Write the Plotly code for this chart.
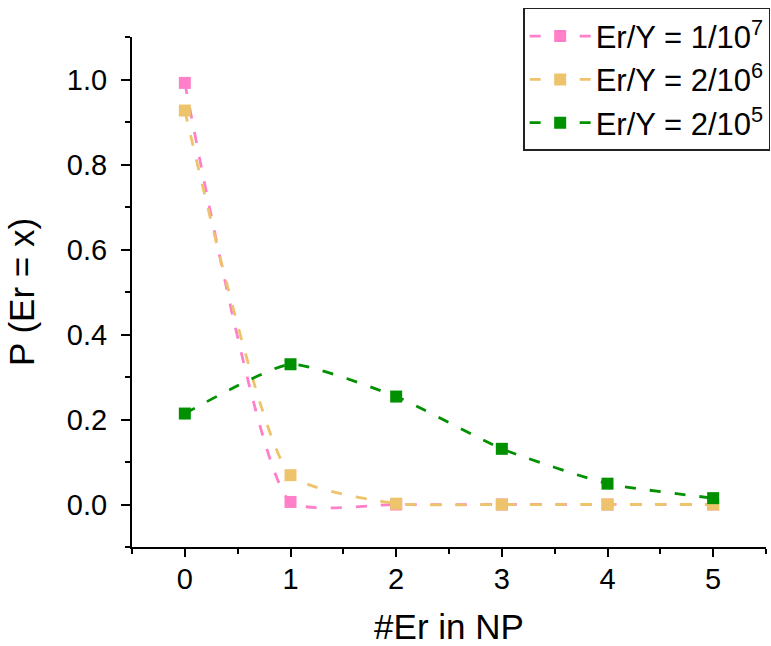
import plotly.graph_objects as go

x_vals = [0, 1, 2, 3, 4, 5]
p_pink = [0.992, 0.006, 0.0, 0.0, 0.0, 0.0]
p_yellow = [0.927, 0.069, 0.002, 0.0, 0.0, 0.0]
p_green = [0.214, 0.330, 0.254, 0.131, 0.049, 0.015]
names = ["Er/Y = 1/10<sup>7</sup>", "Er/Y = 2/10<sup>6</sup>", "Er/Y = 2/10<sup>5</sup>"]
colors = ["#FF80C8", "#EDC46C", "#009000"]
series = [p_pink, p_yellow, p_green]

FONT = "Liberation Sans, Arial, sans-serif"

fig = go.Figure()
for ys, nm, c in zip(series, names, colors):
    fig.add_trace(go.Scatter(
        x=x_vals, y=ys, name=nm, mode="lines+markers",
        line=dict(color=c, width=2.8, dash="11px,14px", shape="spline", smoothing=0.5),
        marker=dict(symbol="square", size=12, color=c, line=dict(width=0)),
    ))

fig.update_layout(
    width=771, height=646,
    margin=dict(l=132, r=5, t=37, b=99, autoexpand=False),
    paper_bgcolor="white", plot_bgcolor="white",
    font=dict(family=FONT, color="black"),
    legend=dict(
        x=0.617, y=1.057, xanchor="left", yanchor="top",
        bgcolor="white", bordercolor="#222", borderwidth=1.5,
        font=dict(size=31, family=FONT, color="black"),
        tracegroupgap=0, itemwidth=61,
    ),
    showlegend=True,
)

fig.update_xaxes(
    range=[-0.5, 5.5], tickvals=[0, 1, 2, 3, 4, 5],
    showgrid=False, zeroline=False,
    showline=True, linecolor="black", linewidth=2,
    ticks="outside", ticklen=8, tickwidth=2, tickcolor="black",
    minor=dict(ticks="outside", ticklen=5, tickwidth=2, tickcolor="black", dtick=0.5, tick0=-0.5, showgrid=False),
    tickfont=dict(size=29, family=FONT, color="black"),
    ticklabelstandoff=-3,
    title=dict(text="#Er in NP", font=dict(size=35, family=FONT, color="black"), standoff=25),
)
fig.update_yaxes(
    range=[-0.1, 1.1], tickvals=[0, 0.2, 0.4, 0.6, 0.8, 1.0],
    tickformat=".1f",
    showgrid=False, zeroline=False,
    showline=True, linecolor="black", linewidth=2,
    ticks="outside", ticklen=9, tickwidth=2, tickcolor="black",
    minor=dict(ticks="outside", ticklen=5, tickwidth=2, tickcolor="black", dtick=0.1, tick0=-0.1, showgrid=False),
    tickfont=dict(size=29, family=FONT, color="black"),
    ticklabelstandoff=8,
    title=dict(text="P (Er = x)", font=dict(size=35, family=FONT, color="black"), standoff=22),
)

fig.write_html("out.html")
